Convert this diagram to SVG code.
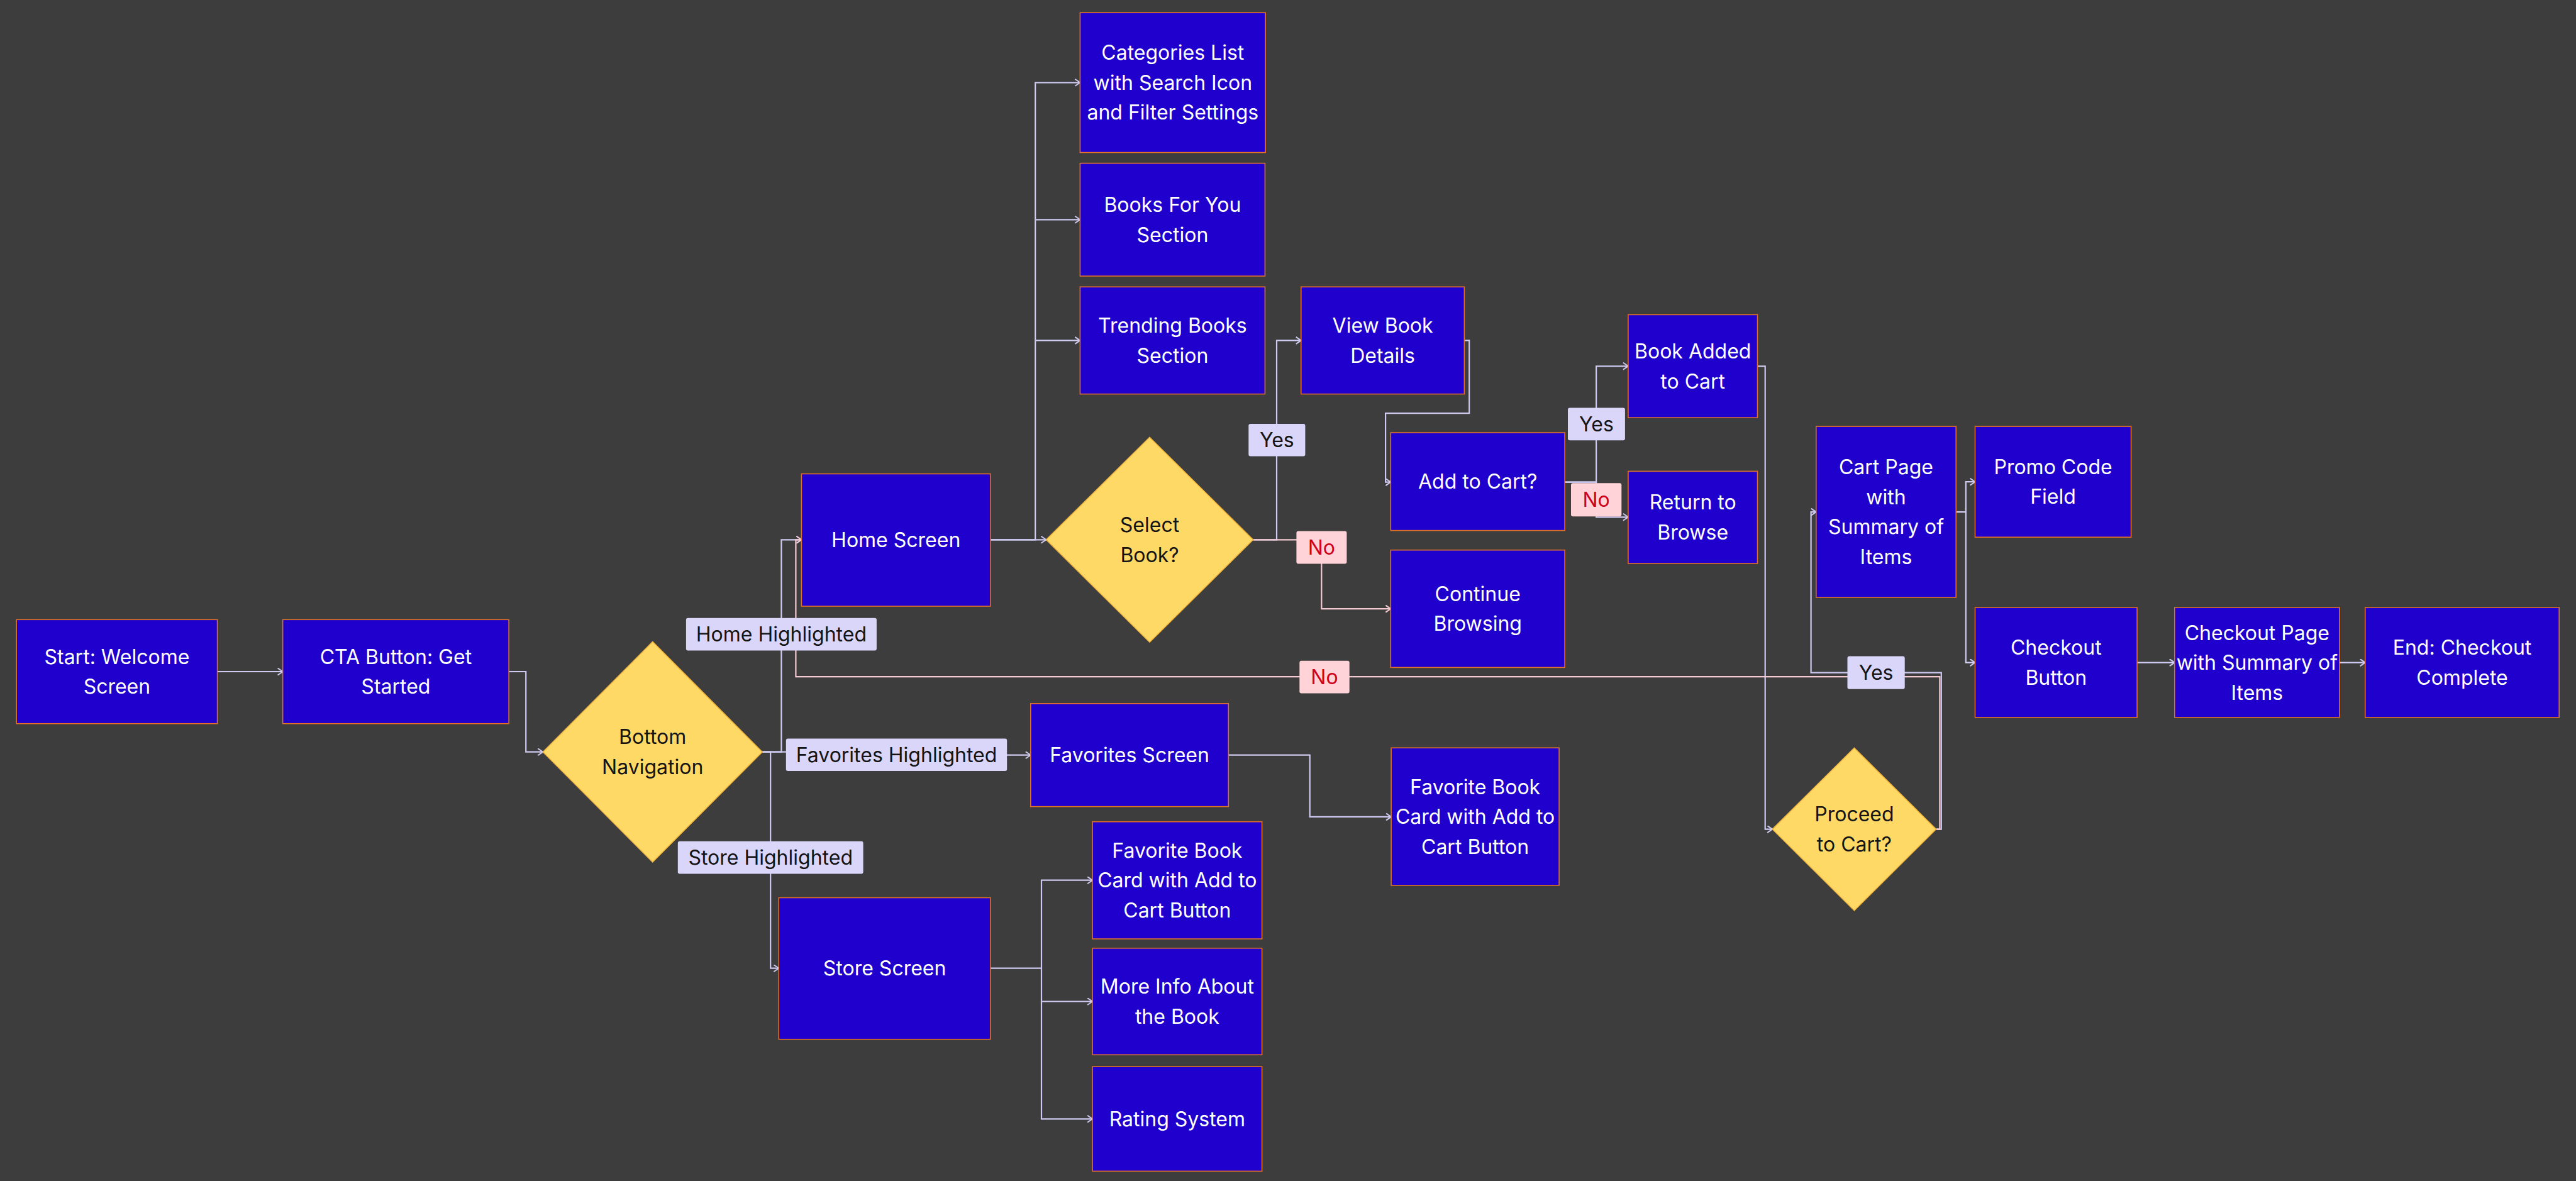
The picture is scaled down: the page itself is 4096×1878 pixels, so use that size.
<svg xmlns="http://www.w3.org/2000/svg" width="4096" height="1878" viewBox="0 0 4096 1878">
<style>
.bg{fill:#3d3d3d}
.box{fill:#2000cc;stroke:#e0702a;stroke-width:1.6}
.dia{fill:#ffd966;stroke:#f0b23a;stroke-width:1.5}
.t{font-family:Inter,"Noto Sans","Liberation Sans",sans-serif;font-size:32px;text-anchor:middle}
.w{fill:#ffffff}
.k{fill:#141414}
.r{fill:#d0021b}
.lbl{fill:#dad6fa}
.lno{fill:#ffd3d8}
.c{fill:none;stroke:#cecaf2;stroke-width:2.2}
.cn{fill:none;stroke:#f3cad1;stroke-width:2.2}
</style>
<defs>
<marker id="a" markerUnits="userSpaceOnUse" markerWidth="12" markerHeight="14" refX="9" refY="6" orient="auto" viewBox="0 0 12 14">
<path d="M1,0.5 L9,6 L1,11.5" fill="none" stroke="#cecaf2" stroke-width="2"/>
</marker>
<marker id="an" markerUnits="userSpaceOnUse" markerWidth="12" markerHeight="14" refX="9" refY="6" orient="auto" viewBox="0 0 12 14">
<path d="M1,0.5 L9,6 L1,11.5" fill="none" stroke="#f3cad1" stroke-width="2"/>
</marker>
</defs>
<rect class="bg" x="0" y="0" width="4096" height="1878"/>
<g id="connectors">
<path class="c" marker-end="url(#a)" d="M345.6,1068 H449.6"/>
<path class="c" marker-end="url(#a)" d="M809.2,1068 H836.2 V1195.7 H863.2"/>
<path class="c" marker-end="url(#a)" d="M1212.1,1195.7 H1242.4 V858.3 H1274.4"/>
<path class="c" marker-end="url(#a)" d="M1212.1,1195.7 H1425 V1200.7 H1638.8"/>
<path class="c" marker-end="url(#a)" d="M1212.1,1195.7 H1225.2 V1539.7 H1238.3"/>
<path class="c" marker-end="url(#a)" d="M1575,858.3 H1663.4"/>
<path class="c" marker-end="url(#a)" d="M1575,858.3 H1646.2 V131.3 H1717.4"/>
<path class="c" marker-end="url(#a)" d="M1646.2,349.3 H1717.4"/>
<path class="c" marker-end="url(#a)" d="M1646.2,541.4 H1717.4"/>
<path class="c" marker-end="url(#a)" d="M1992.6,858.3 H2030 V541.4 H2068.8"/>
<path class="cn" marker-end="url(#an)" d="M1992.6,858.3 H2101.3 V968.1 H2211.3"/>
<path class="c" marker-end="url(#a)" d="M2328.4,541.4 H2336.2 V657.2 H2203.1 V766.6 H2211.3"/>
<path class="c" marker-end="url(#a)" d="M2488.1,766.6 H2538.1 V582.3 H2588.9"/>
<path class="c" marker-end="url(#a)" d="M2488.1,766.6 H2538.1 V822.3 H2588.9"/>
<path class="c" marker-end="url(#a)" d="M2794.4,582.3 H2806.7 V1318.6 H2818.2"/>
<path class="c" marker-end="url(#a)" d="M3078.6,1318.6 H3086.8 V1069.6 H2879.6 V814.1 H2887.8"/>
<path class="cn" marker-end="url(#an)" d="M3078.6,1318.6 H3084.4 V1076.2 H1265.4 V858.3 H1274.4"/>
<path class="c" marker-end="url(#a)" d="M3110.2,814.1 H3125.8 V766.2 H3140.5"/>
<path class="c" marker-end="url(#a)" d="M3125.8,814.1 V1053.6 H3140.5"/>
<path class="c" marker-end="url(#a)" d="M3398.1,1053.6 H3457.8"/>
<path class="c" marker-end="url(#a)" d="M3719.9,1053.6 H3760.8"/>
<path class="c" marker-end="url(#a)" d="M1953.3,1200.7 H2082.7 V1298.9 H2212.1"/>
<path class="c" marker-end="url(#a)" d="M1575,1539.7 H1656 V1399.7 H1737.1"/>
<path class="c" marker-end="url(#a)" d="M1656,1539.7 V1592.5 H1737.1"/>
<path class="c" marker-end="url(#a)" d="M1656,1592.5 V1779.3 H1737.1"/>
</g>
<g id="n-start"><rect class="box" x="26.2" y="985.3" width="319.4" height="165.4"/><text class="t w" x="185.9"><tspan x="185.9" y="1055.75">Start: Welcome</tspan><tspan x="185.9" y="1103.25">Screen</tspan></text></g>
<g id="n-cta"><rect class="box" x="449.6" y="985.3" width="359.5" height="165.4"/><text class="t w"><tspan x="629.4" y="1055.75">CTA Button: Get</tspan><tspan x="629.4" y="1103.25">Started</tspan></text></g>
<g id="n-bottomnav"><polygon class="dia" points="1037.7,1020.4 1212.1,1195.7 1037.7,1371 863.3,1195.7"/><text class="t k"><tspan x="1037.7" y="1183.45">Bottom</tspan><tspan x="1037.7" y="1230.95">Navigation</tspan></text></g>
<g id="n-home"><rect class="box" x="1274.4" y="753.5" width="300.6" height="210.5"/><text class="t w" x="1424.7" y="869.8">Home Screen</text></g>
<g id="n-favorites"><rect class="box" x="1638.8" y="1118.8" width="314.5" height="163.8"/><text class="t w" x="1796.05" y="1212.2">Favorites Screen</text></g>
<g id="n-store"><rect class="box" x="1238.3" y="1427.5" width="336.6" height="225.2"/><text class="t w" x="1406.6" y="1551.2">Store Screen</text></g>
<g id="n-categories"><rect class="box" x="1717.4" y="20.1" width="294.8" height="222.4"/><text class="t w"><tspan x="1864.8" y="95.3">Categories List</tspan><tspan x="1864.8" y="142.8">with Search Icon</tspan><tspan x="1864.8" y="190.3">and Filter Settings</tspan></text></g>
<g id="n-booksforyou"><rect class="box" x="1717.4" y="259.6" width="294" height="179.4"/><text class="t w"><tspan x="1864.4" y="337.05">Books For You</tspan><tspan x="1864.4" y="384.55">Section</tspan></text></g>
<g id="n-trending"><rect class="box" x="1717.4" y="456.2" width="294" height="170.4"/><text class="t w"><tspan x="1864.4" y="529.15">Trending Books</tspan><tspan x="1864.4" y="576.65">Section</tspan></text></g>
<g id="n-selectbook"><polygon class="dia" points="1828,695.3 1992.6,858.3 1828,1021.3 1663.4,858.3"/><text class="t k"><tspan x="1828" y="846.05">Select</tspan><tspan x="1828" y="893.55">Book?</tspan></text></g>
<g id="n-viewbook"><rect class="box" x="2068.8" y="456.2" width="259.6" height="170.4"/><text class="t w"><tspan x="2198.6" y="529.15">View Book</tspan><tspan x="2198.6" y="576.65">Details</tspan></text></g>
<g id="n-addtocart"><rect class="box" x="2211.3" y="688" width="276.8" height="155.6"/><text class="t w" x="2349.7" y="777.3">Add to Cart?</text></g>
<g id="n-continue"><rect class="box" x="2211.3" y="874.7" width="276.8" height="186.7"/><text class="t w"><tspan x="2349.7" y="955.85">Continue</tspan><tspan x="2349.7" y="1003.35">Browsing</tspan></text></g>
<g id="n-bookadded"><rect class="box" x="2588.9" y="500.4" width="205.6" height="163.8"/><text class="t w"><tspan x="2691.7" y="570.05">Book Added</tspan><tspan x="2691.7" y="617.55">to Cart</tspan></text></g>
<g id="n-return"><rect class="box" x="2588.9" y="749.4" width="205.6" height="146.6"/><text class="t w"><tspan x="2691.7" y="810.45">Return to</tspan><tspan x="2691.7" y="857.95">Browse</tspan></text></g>
<g id="n-cartpage"><rect class="box" x="2887.8" y="678.1" width="222.4" height="271.9"/><text class="t w"><tspan x="2999" y="754.35">Cart Page</tspan><tspan x="2999" y="801.85">with</tspan><tspan x="2999" y="849.35">Summary of</tspan><tspan x="2999" y="896.85">Items</tspan></text></g>
<g id="n-promo"><rect class="box" x="3140.5" y="678.1" width="248.1" height="176.1"/><text class="t w"><tspan x="3264.55" y="753.95">Promo Code</tspan><tspan x="3264.55" y="801.45">Field</tspan></text></g>
<g id="n-checkout"><rect class="box" x="3140.5" y="966" width="257.6" height="174.9"/><text class="t w"><tspan x="3269.3" y="1041.35">Checkout</tspan><tspan x="3269.3" y="1088.85">Button</tspan></text></g>
<g id="n-checkoutpage"><rect class="box" x="3457.8" y="966" width="262.1" height="174.9"/><text class="t w"><tspan x="3588.85" y="1017.6">Checkout Page</tspan><tspan x="3588.85" y="1065.1">with Summary of</tspan><tspan x="3588.85" y="1112.6">Items</tspan></text></g>
<g id="n-end"><rect class="box" x="3760.8" y="966" width="308.4" height="174.9"/><text class="t w"><tspan x="3915" y="1041.35">End: Checkout</tspan><tspan x="3915" y="1088.85">Complete</tspan></text></g>
<g id="n-proceed"><polygon class="dia" points="2948.4,1189.2 3078.6,1318.6 2948.4,1448 2818.2,1318.6"/><text class="t k"><tspan x="2948.4" y="1306.35">Proceed</tspan><tspan x="2948.4" y="1353.85">to Cart?</tspan></text></g>
<g id="n-favcard1"><rect class="box" x="2212.1" y="1189.2" width="267" height="218.7"/><text class="t w"><tspan x="2345.6" y="1262.9">Favorite Book</tspan><tspan x="2345.6" y="1310.4">Card with Add to</tspan><tspan x="2345.6" y="1357.9">Cart Button</tspan></text></g>
<g id="n-favcard2"><rect class="box" x="1737.1" y="1306.7" width="269.5" height="186.3"/><text class="t w"><tspan x="1871.85" y="1363.7">Favorite Book</tspan><tspan x="1871.85" y="1411.2">Card with Add to</tspan><tspan x="1871.85" y="1458.7">Cart Button</tspan></text></g>
<g id="n-moreinfo"><rect class="box" x="1737.1" y="1507.8" width="269.5" height="169.5"/><text class="t w"><tspan x="1871.85" y="1580.25">More Info About</tspan><tspan x="1871.85" y="1627.75">the Book</tspan></text></g>
<g id="n-rating"><rect class="box" x="1737.1" y="1696.1" width="269.5" height="166.3"/><text class="t w" x="1871.85" y="1790.8">Rating System</text></g>
<g id="labels">
<g><rect class="lbl" x="1090.9" y="982.8" width="303" height="51.6" rx="3"/><text class="t k" x="1242.4" y="1020.1">Home Highlighted</text></g>
<g><rect class="lbl" x="1249.8" y="1174.4" width="351.4" height="51.6" rx="3"/><text class="t k" x="1425.5" y="1211.7">Favorites Highlighted</text></g>
<g><rect class="lbl" x="1077.8" y="1337.8" width="294.8" height="51.7" rx="3"/><text class="t k" x="1225.2" y="1375.15">Store Highlighted</text></g>
<g><rect class="lbl" x="1985.3" y="674" width="90.1" height="51.6" rx="3"/><text class="t k" x="2030.35" y="711.3">Yes</text></g>
<g><rect class="lno" x="2061.4" y="844.4" width="80" height="52.2" rx="3"/><text class="t r" x="2101.4" y="882">No</text></g>
<g><rect class="lbl" x="2493" y="648.6" width="90.9" height="51.6" rx="3"/><text class="t k" x="2538.45" y="685.9">Yes</text></g>
<g><rect class="lno" x="2498" y="768.2" width="80.3" height="53" rx="3"/><text class="t r" x="2538.15" y="806.2">No</text></g>
<g><rect class="lno" x="2066.3" y="1050.8" width="79.4" height="51.6" rx="3"/><text class="t r" x="2106" y="1088.1">No</text></g>
<g><rect class="lbl" x="2937.5" y="1043.4" width="91.2" height="52.4" rx="3"/><text class="t k" x="2983.1" y="1081.1">Yes</text></g>
</g>
</svg>
